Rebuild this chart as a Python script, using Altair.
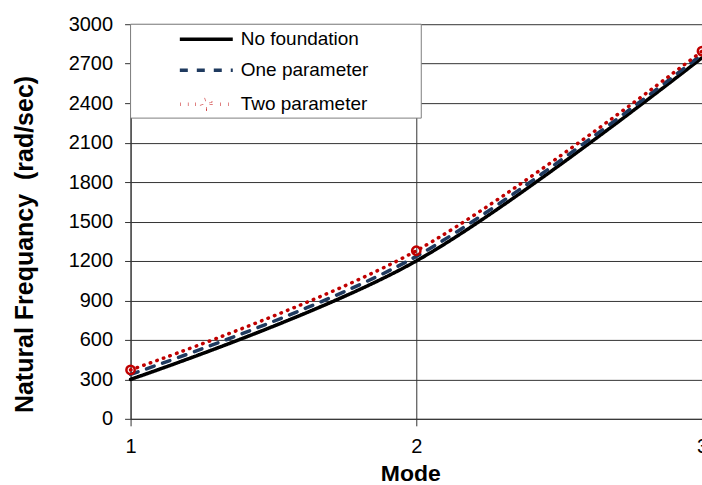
import math
import altair as alt
import pandas as pd

# ---- data ----
modes = [1, 2, 3]
series_names = ["No foundation", "One parameter", "Two parameter"]
no_foundation = [300, 1200, 2745]
one_parameter = [338, 1235, 2770]
two_parameter = [372, 1278, 2795]
y_ticks = [0, 300, 600, 900, 1200, 1500, 1800, 2100, 2400, 2700, 3000]

rows = []
for name, vals in zip(series_names, [no_foundation, one_parameter, two_parameter]):
    for m, v in zip(modes, vals):
        rows.append({"mode": m, "freq": v, "series": name})
df = pd.DataFrame(rows)

colors = ["#000000", "#1F3A5F", "#C00000"]
dashes = [[1, 0], [8, 9], [0.5, 6.5]]
widths = [3.5, 3.5, 3.0]

FONT = "Liberation Sans"
GRID = "#333333"

# ---- legend symbol glyphs (style only): unit = 6 px (symbolSize 144) ----
U = 6.0
def u(px):
    return f"{px / U:.3f}"

line_path = f"M{u(-26.5)},0L{u(26.5)},0"
seg = ""
for c in [-24.8, -17.3, -9.8, 15.3, 22.8]:
    seg += f"M{u(c - 1.1)},0L{u(c + 1.1)},0"
circ = ""
for i in range(16):
    a = 2 * math.pi * i / 16
    circ += ("M" if i == 0 else "L") + f"{u(4.8 * math.cos(a))},{u(4.8 * math.sin(a))}"
circ += "Z"
red_path = seg + circ

is_two = "datum.value === 'Two parameter'"
is_one = "datum.value === 'One parameter'"

legend = alt.Legend(
    title=None,
    orient="none",
    legendX=49.3,
    legendY=5.5,
    padding=0,
    symbolType=alt.ExprRef(f"{is_two} ? '{red_path}' : '{line_path}'"),
    symbolDash=alt.ExprRef(f"{is_one} ? [15, 13] : [1, 0]"),
    symbolStrokeWidth=alt.ExprRef(f"{is_two} ? 2.8 : 3.5"),
    symbolFillColor="white",
    symbolSize=144,
    symbolOffset=17,
    labelFont=FONT,
    labelFontSize=19,
    labelColor="#000000",
    labelOffset=25,
    rowPadding=11,
)

x_enc = alt.X(
    "mode:O",
    scale=alt.Scale(type="point", padding=0),
    axis=alt.Axis(
        grid=True, gridColor=GRID, gridWidth=1, labelAngle=0,
        domainColor=GRID, tickColor=GRID, tickSize=7, labelOverlap=False,
        labelFont=FONT, labelFontSize=20, labelColor="#000000", labelPadding=11,
        title="Mode", titleFont=FONT, titleFontSize=23, titleFontWeight="bold",
        titleColor="#000000", titleBaseline="alphabetic", titleY=62, titleX=280,
    ),
)
y_enc = alt.Y(
    "freq:Q",
    scale=alt.Scale(domain=[0, 3000], nice=False),
    axis=alt.Axis(
        values=y_ticks, format="d", grid=True, gridColor=GRID, gridWidth=1,
        domainColor=GRID, tickColor=GRID, tickSize=6, labelOverlap=False,
        labelFont=FONT, labelFontSize=20, labelColor="#000000", labelPadding=12,
        title="Natural Frequancy\u00a0 (rad/sec)", titleFont=FONT, titleFontSize=25,
        titleFontWeight="bold", titleColor="#000000", titleAngle=270,
        titleBaseline="alphabetic", titleAlign="center", titleX=-98, titleY=220,
    ),
)

legend_box = alt.Chart(pd.DataFrame({"k": [0]})).mark_rect(
    fill="white", stroke="#7f7f7f", strokeWidth=1
).encode(x=alt.value(0), x2=alt.value(291), y=alt.value(0), y2=alt.value(94))

base = alt.Chart(df)

lines = base.transform_calculate(dash_series="datum.series").mark_line(
    interpolate="cardinal", strokeCap="round"
).encode(
    color=alt.Color("series:N", scale=alt.Scale(domain=series_names, range=colors), legend=legend),
    strokeDash=alt.StrokeDash("dash_series:N", scale=alt.Scale(domain=series_names, range=dashes), legend=None),
    strokeWidth=alt.StrokeWidth("dash_series:N", scale=alt.Scale(domain=series_names, range=widths), legend=None),
    order=alt.Order("mode:Q"),
)

points = base.transform_filter(
    alt.datum.series == "Two parameter"
).mark_point(shape="circle", size=70, strokeWidth=2.5, color="#C00000", filled=False, opacity=1)

data_layers = alt.layer(lines, points).encode(x=x_enc, y=y_enc)

chart = alt.layer(legend_box, data_layers).properties(
    width=572,
    height=395,
    autosize=alt.AutoSizeParams(type="none"),
    padding={"left": 130.7, "top": 24, "right": 0, "bottom": 66},
    background="white",
).configure_view(strokeWidth=0)

chart.save("out.html", embed_options={"renderer": "svg", "actions": False})
